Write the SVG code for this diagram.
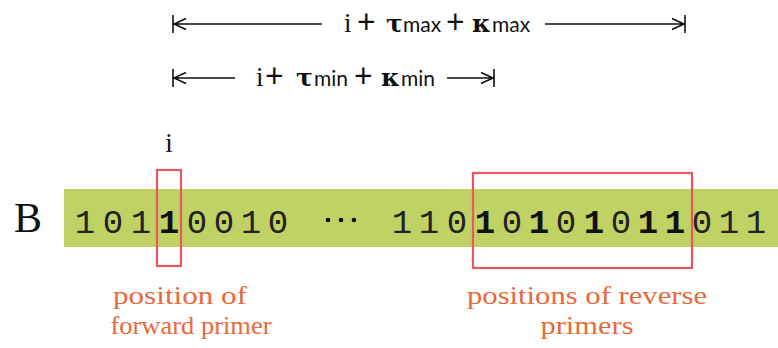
<svg xmlns="http://www.w3.org/2000/svg" width="778" height="348" viewBox="0 0 778 348">
  <style>
    .bit { font-family: "Liberation Mono", "DejaVu Sans Mono", monospace; font-size: 34px; fill: #222; text-anchor: middle; }
    .hot { font-weight: bold; fill: #111; }
    .serif { font-family: "Liberation Serif", "DejaVu Serif", serif; fill: #111; }
    .sans { font-family: "Lato", "Liberation Sans", sans-serif; fill: #111; }
    .greek { font-family: "DejaVu Serif", "Liberation Serif", serif; font-weight: bold; fill: #111; }
    .note { font-family: "Liberation Serif", "DejaVu Serif", serif; font-size: 26px; fill: #E8693A; text-anchor: middle; }
    .span { fill: none; stroke: #111; stroke-width: 1.6; }
    .mark { fill: none; stroke: #E65A5E; stroke-width: 2.2; }
  </style>

  <rect width="778" height="348" fill="#ffffff"/>

  <!-- length spans -->
  <g id="connectors">
    <path class="span" d="M173,15 V33 M186,18.5 L174,24 L186,29.5 M173,24 H322"/>
    <path class="span" d="M545,24 H684 M672,18.5 L684,24 L672,29.5 M685,15 V33"/>
    <path class="span" d="M173,69 V87 M186,72.5 L174,78 L186,83.5 M173,78 H235"/>
    <path class="span" d="M447,78 H493 M481,72.5 L493,78 L481,83.5 M494,69 V87"/>
  </g>

  <g id="span-max">
    <text class="serif" x="344" y="32" font-size="27">i</text>
    <text class="sans" x="357" y="33" font-size="32">+</text>
    <text class="greek" x="386" y="32" font-size="25">τ</text>
    <text class="sans" x="403" y="32" font-size="21">max</text>
    <text class="sans" x="446" y="33" font-size="32">+</text>
    <text class="greek" x="472" y="32" font-size="25">κ</text>
    <text class="sans" x="492" y="32" font-size="21">max</text>
  </g>

  <g id="span-min">
    <text class="serif" x="256" y="86" font-size="27">i</text>
    <text class="sans" x="265" y="87" font-size="32">+</text>
    <text class="greek" x="296" y="86" font-size="25">τ</text>
    <text class="sans" x="314" y="86" font-size="21">min</text>
    <text class="sans" x="354" y="87" font-size="32">+</text>
    <text class="greek" x="381" y="86" font-size="25">κ</text>
    <text class="sans" x="401" y="86" font-size="21">min</text>
  </g>

  <g id="index-label">
    <text class="serif" x="169" y="152" font-size="27" text-anchor="middle">i</text>
  </g>

  <g id="sequence">
    <text class="serif" x="28" y="232" font-size="42" text-anchor="middle">B</text>
    <rect x="64" y="189" width="714" height="58" fill="#C1D264"/>
    <text class="bit" x="85" y="233">1</text>
    <text class="bit" x="113" y="233">0</text>
    <text class="bit" x="141" y="233">1</text>
    <text class="bit hot" x="169" y="233">1</text>
    <text class="bit" x="197" y="233">0</text>
    <text class="bit" x="224" y="233">0</text>
    <text class="bit" x="251" y="233">1</text>
    <text class="bit" x="278" y="233">0</text>
    <circle cx="328" cy="220" r="2.3" fill="#111"/>
    <circle cx="341" cy="220" r="2.3" fill="#111"/>
    <circle cx="354" cy="220" r="2.3" fill="#111"/>
    <text class="bit" x="402" y="233">1</text>
    <text class="bit" x="429" y="233">1</text>
    <text class="bit" x="457" y="233">0</text>
    <text class="bit hot" x="485" y="233">1</text>
    <text class="bit" x="512" y="233">0</text>
    <text class="bit hot" x="539" y="233">1</text>
    <text class="bit" x="566" y="233">0</text>
    <text class="bit hot" x="594" y="233">1</text>
    <text class="bit" x="621" y="233">0</text>
    <text class="bit hot" x="648" y="233">1</text>
    <text class="bit hot" x="675" y="233">1</text>
    <text class="bit" x="702" y="233">0</text>
    <text class="bit" x="729" y="233">1</text>
    <text class="bit" x="756" y="233">1</text>
  </g>

  <g id="forward-primer">
    <rect class="mark" x="157" y="170" width="24" height="96"/>
    <text class="note" x="180" y="304" textLength="134" lengthAdjust="spacingAndGlyphs">position of</text>
    <text class="note" x="191" y="334" textLength="161" lengthAdjust="spacingAndGlyphs">forward primer</text>
  </g>

  <g id="reverse-primers">
    <rect class="mark" x="473" y="173" width="219" height="95"/>
    <text class="note" x="587" y="304" textLength="240" lengthAdjust="spacingAndGlyphs">positions of reverse</text>
    <text class="note" x="587" y="334" textLength="93" lengthAdjust="spacingAndGlyphs">primers</text>
  </g>
</svg>
